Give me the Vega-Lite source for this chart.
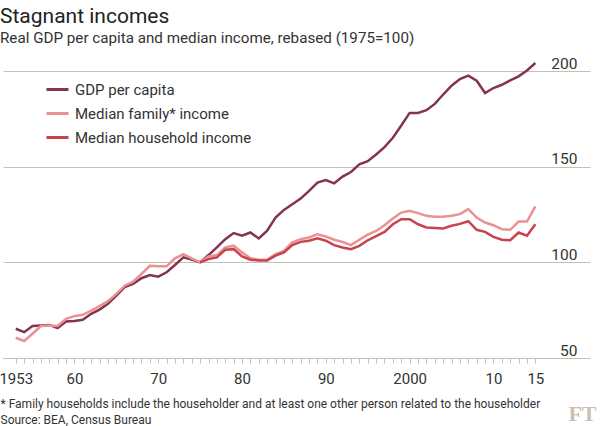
{
  "$schema": "https://vega.github.io/schema/vega-lite/v6.json",
  "autosize": "none",
  "width": 587,
  "height": 287,
  "padding": {"left": 3, "top": 71, "right": 10, "bottom": 68},
  "background": "white",
  "title": {
    "text": "Stagnant incomes",
    "subtitle": "Real GDP per capita and median income, rebased (1975=100)",
    "anchor": "start",
    "frame": "group",
    "dx": -3,
    "offset": 10,
    "font": "Roboto",
    "fontSize": 21,
    "fontWeight": "normal",
    "color": "#222222",
    "subtitleFont": "Roboto",
    "subtitleFontSize": 15.2,
    "subtitleColor": "#333333",
    "subtitlePadding": 4
  },
  "config": {
    "view": {"stroke": null},
    "font": "Roboto"
  },
  "data": {
    "values": [
      {"year": 1953, "series": "GDP per capita", "value": 65.3},
      {"year": 1954, "series": "GDP per capita", "value": 63.5},
      {"year": 1955, "series": "GDP per capita", "value": 66.7},
      {"year": 1956, "series": "GDP per capita", "value": 67.0},
      {"year": 1957, "series": "GDP per capita", "value": 67.3},
      {"year": 1958, "series": "GDP per capita", "value": 65.6},
      {"year": 1959, "series": "GDP per capita", "value": 69.1},
      {"year": 1960, "series": "GDP per capita", "value": 69.4},
      {"year": 1961, "series": "GDP per capita", "value": 70.0},
      {"year": 1962, "series": "GDP per capita", "value": 73.1},
      {"year": 1963, "series": "GDP per capita", "value": 75.3},
      {"year": 1964, "series": "GDP per capita", "value": 78.3},
      {"year": 1965, "series": "GDP per capita", "value": 82.6},
      {"year": 1966, "series": "GDP per capita", "value": 87.0},
      {"year": 1967, "series": "GDP per capita", "value": 88.7},
      {"year": 1968, "series": "GDP per capita", "value": 91.7},
      {"year": 1969, "series": "GDP per capita", "value": 93.4},
      {"year": 1970, "series": "GDP per capita", "value": 92.5},
      {"year": 1971, "series": "GDP per capita", "value": 94.8},
      {"year": 1972, "series": "GDP per capita", "value": 98.6},
      {"year": 1973, "series": "GDP per capita", "value": 102.6},
      {"year": 1974, "series": "GDP per capita", "value": 101.4},
      {"year": 1975, "series": "GDP per capita", "value": 100},
      {"year": 1976, "series": "GDP per capita", "value": 103.8},
      {"year": 1977, "series": "GDP per capita", "value": 107.8},
      {"year": 1978, "series": "GDP per capita", "value": 112.1},
      {"year": 1979, "series": "GDP per capita", "value": 115.3},
      {"year": 1980, "series": "GDP per capita", "value": 113.9},
      {"year": 1981, "series": "GDP per capita", "value": 115.6},
      {"year": 1982, "series": "GDP per capita", "value": 112.5},
      {"year": 1983, "series": "GDP per capita", "value": 116.5},
      {"year": 1984, "series": "GDP per capita", "value": 123.4},
      {"year": 1985, "series": "GDP per capita", "value": 127.4},
      {"year": 1986, "series": "GDP per capita", "value": 130.4},
      {"year": 1987, "series": "GDP per capita", "value": 133.3},
      {"year": 1988, "series": "GDP per capita", "value": 137.3},
      {"year": 1989, "series": "GDP per capita", "value": 141.7},
      {"year": 1990, "series": "GDP per capita", "value": 143.0},
      {"year": 1991, "series": "GDP per capita", "value": 141.3},
      {"year": 1992, "series": "GDP per capita", "value": 144.8},
      {"year": 1993, "series": "GDP per capita", "value": 147.2},
      {"year": 1994, "series": "GDP per capita", "value": 151.2},
      {"year": 1995, "series": "GDP per capita", "value": 152.9},
      {"year": 1996, "series": "GDP per capita", "value": 156.4},
      {"year": 1997, "series": "GDP per capita", "value": 160.2},
      {"year": 1998, "series": "GDP per capita", "value": 165.1},
      {"year": 1999, "series": "GDP per capita", "value": 171.5},
      {"year": 2000, "series": "GDP per capita", "value": 178.1},
      {"year": 2001, "series": "GDP per capita", "value": 178.1},
      {"year": 2002, "series": "GDP per capita", "value": 179.5},
      {"year": 2003, "series": "GDP per capita", "value": 182.8},
      {"year": 2004, "series": "GDP per capita", "value": 187.7},
      {"year": 2005, "series": "GDP per capita", "value": 192.3},
      {"year": 2006, "series": "GDP per capita", "value": 195.8},
      {"year": 2007, "series": "GDP per capita", "value": 197.6},
      {"year": 2008, "series": "GDP per capita", "value": 194.9},
      {"year": 2009, "series": "GDP per capita", "value": 188.5},
      {"year": 2010, "series": "GDP per capita", "value": 191.1},
      {"year": 2011, "series": "GDP per capita", "value": 192.8},
      {"year": 2012, "series": "GDP per capita", "value": 195.1},
      {"year": 2013, "series": "GDP per capita", "value": 197.2},
      {"year": 2014, "series": "GDP per capita", "value": 200.3},
      {"year": 2015, "series": "GDP per capita", "value": 204.2},
      {"year": 1953, "series": "Median family* income", "value": 60.6},
      {"year": 1954, "series": "Median family* income", "value": 58.9},
      {"year": 1955, "series": "Median family* income", "value": 62.7},
      {"year": 1956, "series": "Median family* income", "value": 66.7},
      {"year": 1957, "series": "Median family* income", "value": 67.0},
      {"year": 1958, "series": "Median family* income", "value": 66.7},
      {"year": 1959, "series": "Median family* income", "value": 70.5},
      {"year": 1960, "series": "Median family* income", "value": 71.9},
      {"year": 1961, "series": "Median family* income", "value": 72.6},
      {"year": 1962, "series": "Median family* income", "value": 74.8},
      {"year": 1963, "series": "Median family* income", "value": 77.1},
      {"year": 1964, "series": "Median family* income", "value": 79.7},
      {"year": 1965, "series": "Median family* income", "value": 83.5},
      {"year": 1966, "series": "Median family* income", "value": 87.8},
      {"year": 1967, "series": "Median family* income", "value": 89.9},
      {"year": 1968, "series": "Median family* income", "value": 93.9},
      {"year": 1969, "series": "Median family* income", "value": 98.2},
      {"year": 1970, "series": "Median family* income", "value": 97.9},
      {"year": 1971, "series": "Median family* income", "value": 97.9},
      {"year": 1972, "series": "Median family* income", "value": 102.1},
      {"year": 1973, "series": "Median family* income", "value": 104.3},
      {"year": 1974, "series": "Median family* income", "value": 102.1},
      {"year": 1975, "series": "Median family* income", "value": 100},
      {"year": 1976, "series": "Median family* income", "value": 103.1},
      {"year": 1977, "series": "Median family* income", "value": 103.8},
      {"year": 1978, "series": "Median family* income", "value": 107.8},
      {"year": 1979, "series": "Median family* income", "value": 108.7},
      {"year": 1980, "series": "Median family* income", "value": 105.2},
      {"year": 1981, "series": "Median family* income", "value": 102.1},
      {"year": 1982, "series": "Median family* income", "value": 101.4},
      {"year": 1983, "series": "Median family* income", "value": 101.4},
      {"year": 1984, "series": "Median family* income", "value": 104.3},
      {"year": 1985, "series": "Median family* income", "value": 106.0},
      {"year": 1986, "series": "Median family* income", "value": 110.4},
      {"year": 1987, "series": "Median family* income", "value": 112.1},
      {"year": 1988, "series": "Median family* income", "value": 113.0},
      {"year": 1989, "series": "Median family* income", "value": 114.7},
      {"year": 1990, "series": "Median family* income", "value": 113.5},
      {"year": 1991, "series": "Median family* income", "value": 111.8},
      {"year": 1992, "series": "Median family* income", "value": 110.6},
      {"year": 1993, "series": "Median family* income", "value": 109.0},
      {"year": 1994, "series": "Median family* income", "value": 111.8},
      {"year": 1995, "series": "Median family* income", "value": 114.5},
      {"year": 1996, "series": "Median family* income", "value": 116.4},
      {"year": 1997, "series": "Median family* income", "value": 119.4},
      {"year": 1998, "series": "Median family* income", "value": 122.9},
      {"year": 1999, "series": "Median family* income", "value": 126.0},
      {"year": 2000, "series": "Median family* income", "value": 126.9},
      {"year": 2001, "series": "Median family* income", "value": 125.7},
      {"year": 2002, "series": "Median family* income", "value": 124.3},
      {"year": 2003, "series": "Median family* income", "value": 123.8},
      {"year": 2004, "series": "Median family* income", "value": 123.8},
      {"year": 2005, "series": "Median family* income", "value": 124.3},
      {"year": 2006, "series": "Median family* income", "value": 125.2},
      {"year": 2007, "series": "Median family* income", "value": 127.8},
      {"year": 2008, "series": "Median family* income", "value": 123.4},
      {"year": 2009, "series": "Median family* income", "value": 120.8},
      {"year": 2010, "series": "Median family* income", "value": 119.4},
      {"year": 2011, "series": "Median family* income", "value": 117.3},
      {"year": 2012, "series": "Median family* income", "value": 117.0},
      {"year": 2013, "series": "Median family* income", "value": 121.3},
      {"year": 2014, "series": "Median family* income", "value": 121.3},
      {"year": 2015, "series": "Median family* income", "value": 129.2},
      {"year": 1975, "series": "Median household income", "value": 100},
      {"year": 1976, "series": "Median household income", "value": 101.7},
      {"year": 1977, "series": "Median household income", "value": 102.6},
      {"year": 1978, "series": "Median household income", "value": 106.6},
      {"year": 1979, "series": "Median household income", "value": 106.9},
      {"year": 1980, "series": "Median household income", "value": 103.1},
      {"year": 1981, "series": "Median household income", "value": 101.4},
      {"year": 1982, "series": "Median household income", "value": 100.9},
      {"year": 1983, "series": "Median household income", "value": 100.9},
      {"year": 1984, "series": "Median household income", "value": 103.5},
      {"year": 1985, "series": "Median household income", "value": 105.2},
      {"year": 1986, "series": "Median household income", "value": 109.0},
      {"year": 1987, "series": "Median household income", "value": 110.7},
      {"year": 1988, "series": "Median household income", "value": 111.3},
      {"year": 1989, "series": "Median household income", "value": 112.5},
      {"year": 1990, "series": "Median household income", "value": 111.3},
      {"year": 1991, "series": "Median household income", "value": 109.0},
      {"year": 1992, "series": "Median household income", "value": 107.8},
      {"year": 1993, "series": "Median household income", "value": 106.9},
      {"year": 1994, "series": "Median household income", "value": 108.6},
      {"year": 1995, "series": "Median household income", "value": 111.5},
      {"year": 1996, "series": "Median household income", "value": 113.7},
      {"year": 1997, "series": "Median household income", "value": 115.9},
      {"year": 1998, "series": "Median household income", "value": 119.9},
      {"year": 1999, "series": "Median household income", "value": 122.5},
      {"year": 2000, "series": "Median household income", "value": 122.5},
      {"year": 2001, "series": "Median household income", "value": 119.9},
      {"year": 2002, "series": "Median household income", "value": 118.2},
      {"year": 2003, "series": "Median household income", "value": 118.0},
      {"year": 2004, "series": "Median household income", "value": 117.7},
      {"year": 2005, "series": "Median household income", "value": 119.1},
      {"year": 2006, "series": "Median household income", "value": 120.1},
      {"year": 2007, "series": "Median household income", "value": 121.5},
      {"year": 2008, "series": "Median household income", "value": 117.0},
      {"year": 2009, "series": "Median household income", "value": 115.9},
      {"year": 2010, "series": "Median household income", "value": 113.3},
      {"year": 2011, "series": "Median household income", "value": 111.8},
      {"year": 2012, "series": "Median household income", "value": 111.6},
      {"year": 2013, "series": "Median household income", "value": 115.6},
      {"year": 2014, "series": "Median household income", "value": 113.9},
      {"year": 2015, "series": "Median household income", "value": 119.9}
    ]
  },
  "mark": {"type": "line", "strokeWidth": 2.5, "clip": false},
  "encoding": {
    "x": {
      "field": "year",
      "type": "quantitative",
      "scale": {"domain": [1951.48, 2021.52], "nice": false, "zero": false},
      "axis": {
        "values": [1953,1954,1955,1956,1957,1958,1959,1960,1961,1962,1963,1964,1965,1966,1967,1968,1969,1970,1971,1972,1973,1974,1975,1976,1977,1978,1979,1980,1981,1982,1983,1984,1985,1986,1987,1988,1989,1990,1991,1992,1993,1994,1995,1996,1997,1998,1999,2000,2001,2002,2003,2004,2005,2006,2007,2008,2009,2010,2011,2012,2013,2014,2015],
        "labelExpr": "(datum.value == 1953 || datum.value == 2000) ? '' + datum.value : ((datum.value % 10 == 0 || datum.value == 2015) ? slice('' + datum.value, 2) : '')",
        "labelOverlap": false,
        "labelBound": false,
        "labelFlush": false,
        "grid": false,
        "domainColor": "#c9c0b4",
        "domainWidth": 1,
        "tickColor": "#c9c0b4",
        "tickSize": 5,
        "labelFont": "Roboto",
        "labelFontSize": 15,
        "labelColor": "#333333",
        "labelPadding": 8,
        "title": ["* Family households include the householder and at least one other person related to the householder", "Source: BEA, Census Bureau"],
        "titleFont": "Roboto",
        "titleFontSize": 12,
        "titleFontWeight": "normal",
        "titleColor": "#333333",
        "titleAnchor": "start",
        "titleAlign": "left",
        "titleBaseline": "alphabetic",
        "titleLineHeight": 16,
        "titleX": -3,
        "titleY": 49
      }
    },
    "y": {
      "field": "value",
      "type": "quantitative",
      "scale": {"domain": [50, 200], "nice": false, "zero": false},
      "axis": {
        "orient": "right",
        "values": [50, 100, 150, 200],
        "grid": true,
        "gridColor": "#c9c0b4",
        "gridWidth": 1,
        "domain": false,
        "ticks": false,
        "labelAlign": "right",
        "labelBaseline": "bottom",
        "labelPadding": -13,
        "labelDy": -3,
        "labelFont": "Roboto",
        "labelFontSize": 15.5,
        "labelColor": "#333333",
        "title": "FT",
        "titleAngle": 0,
        "titleFont": "Liberation Serif",
        "titleFontSize": 22,
        "titleFontWeight": "bold",
        "titleColor": "#cdbfae",
        "titleAlign": "right",
        "titleBaseline": "bottom",
        "titleX": 6,
        "titleY": 354
      }
    },
    "color": {
      "field": "series",
      "type": "nominal",
      "scale": {
        "domain": ["GDP per capita", "Median family* income", "Median household income"],
        "range": ["#843451", "#ec9093", "#c7444f"]
      },
      "legend": {
        "orient": "none",
        "legendX": 42,
        "legendY": 6,
        "title": null,
        "padding": 0,
        "symbolType": "stroke",
        "symbolSize": 484,
        "symbolStrokeWidth": 3,
        "labelFont": "Roboto",
        "labelFontSize": 15,
        "labelLimit": 0,
        "labelColor": "#333333",
        "labelOffset": 5,
        "rowPadding": 3
      }
    }
  }
}
